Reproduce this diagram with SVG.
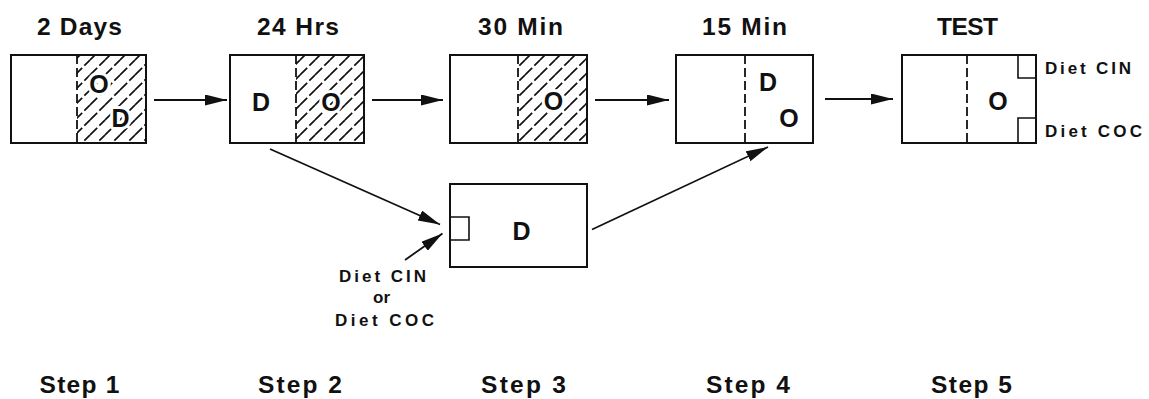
<svg xmlns="http://www.w3.org/2000/svg" width="1149" height="399" viewBox="0 0 1149 399">
<style>
.box{fill:none;stroke:#111;stroke-width:2}
.div{stroke:#111;stroke-width:1.8;stroke-dasharray:9 4}
.hatch{fill:url(#hatch)}
.edge{stroke:#111;stroke-width:1.8;fill:none;marker-end:url(#arr)}
.t{font-family:"Liberation Sans",Arial,sans-serif;font-weight:bold;fill:#111}
.title{font-size:24.5px}
.big{font-size:25px;text-anchor:middle}
.halo{paint-order:stroke;stroke:#fff;stroke-width:6;stroke-linejoin:round}
.small{font-size:17px}
.notch{fill:none;stroke:#111;stroke-width:1.6}
</style>
<defs>
<pattern id="hatch" patternUnits="userSpaceOnUse" width="15" height="15">
<path d="M-2,17 L17,-2 M-9,9 L9,-9 M6,24 L24,6" stroke="#111" stroke-width="1.7" stroke-dasharray="13 3"/>
</pattern>
<marker id="arr" markerUnits="userSpaceOnUse" markerWidth="24" markerHeight="12" refX="22" refY="5.5" orient="auto">
<path d="M0,0 L22,5.5 L0,11 z" fill="#111"/>
</marker>
</defs>

<g id="labels-top">
<text class="t title" x="37" y="35" textLength="85" lengthAdjust="spacing">2 Days</text>
<text class="t title" x="257" y="35" textLength="82" lengthAdjust="spacing">24 Hrs</text>
<text class="t title" x="478" y="35" textLength="85" lengthAdjust="spacing">30 Min</text>
<text class="t title" x="702" y="35" textLength="85" lengthAdjust="spacing">15 Min</text>
<text class="t title" x="937" y="35" textLength="61" lengthAdjust="spacing">TEST</text>
</g>

<g id="box1">
<rect class="hatch" x="77" y="55" width="69" height="88"/>
<line class="div" x1="77" y1="55" x2="77" y2="143"/>
<rect class="box" x="11" y="55" width="135" height="88"/>
<text class="t big halo" x="99" y="92.5">O</text>
<text class="t big halo" x="120.5" y="127">D</text>
</g>

<g id="box2">
<rect class="hatch" x="296" y="55" width="68" height="88"/>
<line class="div" x1="296" y1="55" x2="296" y2="143"/>
<rect class="box" x="230" y="55" width="134" height="88"/>
<text class="t big" x="261" y="110.5">D</text>
<text class="t big halo" x="331" y="110.5">O</text>
</g>

<g id="box3">
<rect class="hatch" x="518" y="55" width="69" height="88"/>
<line class="div" x1="518" y1="55" x2="518" y2="143"/>
<rect class="box" x="450" y="55" width="137" height="88"/>
<text class="t big halo" x="553.5" y="110">O</text>
</g>

<g id="box4">
<line class="div" x1="745" y1="55" x2="745" y2="143"/>
<rect class="box" x="676" y="55" width="137" height="88"/>
<text class="t big" x="768" y="91">D</text>
<text class="t big" x="789" y="126.5">O</text>
</g>

<g id="box5">
<line class="div" x1="967" y1="55" x2="967" y2="143"/>
<rect class="box" x="902" y="55" width="134" height="88"/>
<path class="notch" d="M1018,55 V78 H1036 M1018,143 V118 H1036"/>
<text class="t big" x="998" y="109.5">O</text>
<text class="t small" x="1045" y="74" textLength="86" lengthAdjust="spacing">Diet CIN</text>
<text class="t small" x="1045" y="136.5" textLength="97" lengthAdjust="spacing">Diet COC</text>
</g>

<g id="box6">
<rect class="box" x="450" y="184" width="137" height="83"/>
<path class="notch" d="M450,217 H469 V240 H450"/>
<text class="t big" x="521.5" y="240">D</text>
</g>

<g id="diet-label">
<text class="t small" x="339" y="281.5" textLength="87" lengthAdjust="spacing">Diet CIN</text>
<text class="t small" x="373" y="303" textLength="17" lengthAdjust="spacing">or</text>
<text class="t small" x="335" y="326" textLength="99" lengthAdjust="spacing">Diet COC</text>
</g>

<g id="connectors">
<line class="edge" x1="154" y1="100" x2="227" y2="100"/>
<line class="edge" x1="372" y1="100" x2="443" y2="100"/>
<line class="edge" x1="595" y1="100" x2="669" y2="100"/>
<line class="edge" x1="825" y1="99" x2="893" y2="99"/>
<line class="edge" x1="270" y1="149" x2="440" y2="224.5"/>
<line class="edge" x1="405" y1="260" x2="442.5" y2="233.5"/>
<line class="edge" x1="592" y1="229.5" x2="768" y2="147"/>
</g>

<g id="steps">
<text class="t title" x="39.5" y="393" textLength="80" lengthAdjust="spacing">Step 1</text>
<text class="t title" x="258" y="393" textLength="84" lengthAdjust="spacing">Step 2</text>
<text class="t title" x="481" y="393" textLength="85" lengthAdjust="spacing">Step 3</text>
<text class="t title" x="706" y="393" textLength="84" lengthAdjust="spacing">Step 4</text>
<text class="t title" x="931" y="393" textLength="81" lengthAdjust="spacing">Step 5</text>
</g>
</svg>
